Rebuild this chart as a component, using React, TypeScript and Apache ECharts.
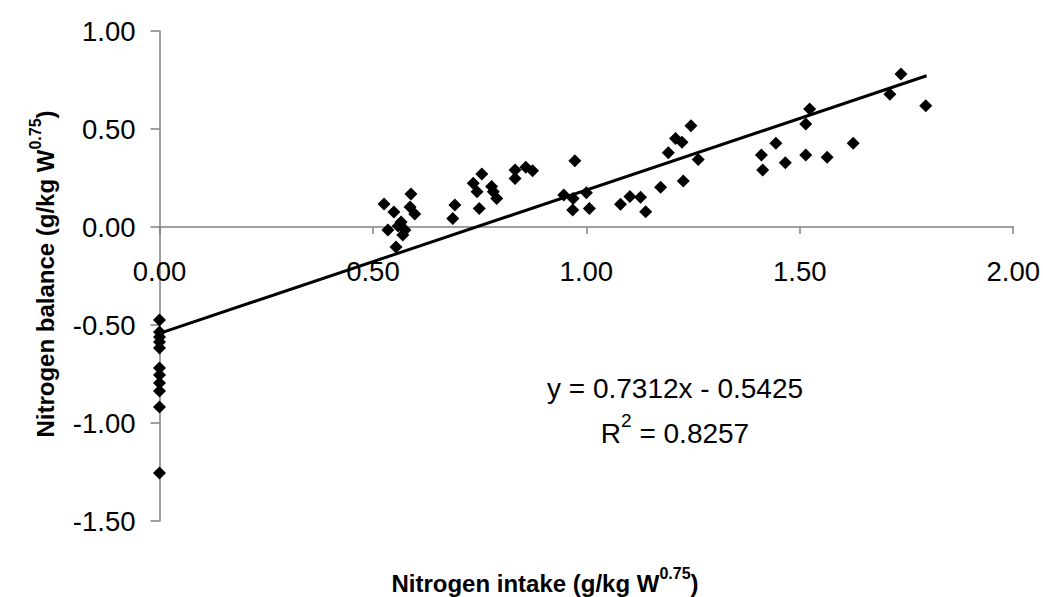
import React, { useEffect, useRef } from "react";
import * as echarts from "echarts";

const intake: number[] = [
  0, 0, 0, 0, 0, 0, 0, 0, 0, 0, 0,
  0.526, 0.535, 0.549, 0.554, 0.559, 0.566, 0.57, 0.575, 0.587, 0.589, 0.598,
  0.687, 0.692, 0.735, 0.744, 0.749, 0.755, 0.778, 0.782, 0.79, 0.833, 0.833, 0.858, 0.874,
  0.947, 0.969, 0.968, 0.973, 1.0, 1.007, 1.08, 1.102, 1.127, 1.139, 1.174, 1.192, 1.209,
  1.224, 1.227, 1.245, 1.262, 1.41, 1.413, 1.444, 1.466, 1.514, 1.523, 1.514, 1.564, 1.625,
  1.711, 1.737, 1.795,
];
const balance: number[] = [
  -0.474, -0.536, -0.561, -0.587, -0.617, -0.72, -0.755, -0.796, -0.837, -0.918, -1.255,
  0.117, -0.015, 0.077, -0.102, 0.005, 0.026, -0.041, -0.015, 0.102, 0.168, 0.066,
  0.044, 0.112, 0.223, 0.18, 0.095, 0.27, 0.206, 0.18, 0.146, 0.291, 0.248, 0.305, 0.287,
  0.163, 0.146, 0.087, 0.338, 0.175, 0.095, 0.116, 0.155, 0.152, 0.078, 0.203, 0.379, 0.452,
  0.432, 0.235, 0.517, 0.345, 0.367, 0.291, 0.427, 0.328, 0.526, 0.602, 0.367, 0.356, 0.427,
  0.677, 0.781, 0.619,
];
const slope = 0.7312;
const intercept = -0.5425;
const trendRange: number[] = [0, 1.797];
const xTicks = { min: 0, max: 2, interval: 0.5 };
const yTicks = { min: -1.5, max: 1, interval: 0.5 };
const equationText = "y = 0.7312x - 0.5425";
const r2Value = "0.8257";

const FONT = "'Liberation Sans', Arial, sans-serif";

export default function App() {
  const ref = useRef<HTMLDivElement>(null);
  useEffect(() => {
    document.body.style.margin = "0";
    if (!ref.current) return;
    const chart = echarts.init(ref.current, null, { renderer: "svg" });
    const points = intake.map((x, i) => [x, balance[i]]);
    const trend = trendRange.map((x) => [x, slope * x + intercept]);
    const gridTop = 31;
    const gridBottom = 76;
    const plotH = 597 - gridTop - gridBottom;
    // distance from bottom of grid to the y = 0 line, via the y scale
    const zeroOffset = (plotH * (0 - yTicks.min)) / (yTicks.max - yTicks.min);
    chart.setOption({
      animation: false,
      backgroundColor: "#ffffff",
      grid: { left: 159.5, right: 29.5, top: gridTop, bottom: gridBottom, containLabel: false },
      xAxis: {
        type: "value",
        min: xTicks.min,
        max: xTicks.max,
        interval: xTicks.interval,
        offset: -zeroOffset,
        axisLine: { show: true, onZero: false, lineStyle: { color: "#808080", width: 1.5 } },
        axisTick: { show: true, length: 7, lineStyle: { color: "#808080", width: 1.5 } },
        axisLabel: {
          margin: 30,
          fontFamily: FONT,
          fontSize: 27.5,
          color: "#000",
          formatter: (v: number) => v.toFixed(2),
        },
        splitLine: { show: false },
      },
      yAxis: {
        type: "value",
        min: yTicks.min,
        max: yTicks.max,
        interval: yTicks.interval,
        axisLine: { show: true, onZero: false, lineStyle: { color: "#808080", width: 1.5 } },
        axisTick: { show: true, length: 9, lineStyle: { color: "#808080", width: 1.5 } },
        axisLabel: {
          margin: 24,
          fontFamily: FONT,
          fontSize: 27.5,
          color: "#000",
          formatter: (v: number) => v.toFixed(2),
        },
        splitLine: { show: false },
      },
      series: [
        {
          type: "line",
          data: trend,
          showSymbol: false,
          symbol: "none",
          lineStyle: { color: "#000", width: 3 },
          z: 2,
        },
        {
          type: "scatter",
          data: points,
          symbol: "diamond",
          symbolSize: [13, 13],
          itemStyle: { color: "#000", opacity: 1 },
          z: 3,
        },
      ],
      graphic: [
        {
          type: "text",
          x: 545,
          y: 580,
          style: {
            text: "{a|Nitrogen intake (g/kg W}{b|0.75}{a|)}",
            align: "center",
            verticalAlign: "middle",
            rich: {
              a: { fontFamily: FONT, fontSize: 24, fontWeight: "bold", fill: "#000", lineHeight: 30, verticalAlign: "bottom" },
              b: { fontFamily: FONT, fontSize: 16, fontWeight: "bold", fill: "#000", lineHeight: 16, verticalAlign: "top" },
            },
          },
        },
        {
          type: "text",
          x: 42,
          y: 274,
          rotation: Math.PI / 2,
          style: {
            text: "{a|Nitrogen balance (g/kg W}{b|0.75}{a|)}",
            align: "center",
            verticalAlign: "middle",
            rich: {
              a: { fontFamily: FONT, fontSize: 24, fontWeight: "bold", fill: "#000", lineHeight: 30, verticalAlign: "bottom" },
              b: { fontFamily: FONT, fontSize: 16, fontWeight: "bold", fill: "#000", lineHeight: 16, verticalAlign: "top" },
            },
          },
        },
        {
          type: "text",
          x: 675,
          y: 388,
          style: {
            text: equationText,
            align: "center",
            verticalAlign: "middle",
            fontFamily: FONT,
            fontSize: 28,
            fill: "#000",
          },
        },
        {
          type: "text",
          x: 675,
          y: 429,
          style: {
            text: "{a|R}{b|2}{a| = " + r2Value + "}",
            align: "center",
            verticalAlign: "middle",
            rich: {
              a: { fontFamily: FONT, fontSize: 28, fill: "#000", lineHeight: 36, verticalAlign: "bottom" },
              b: { fontFamily: FONT, fontSize: 19, fill: "#000", lineHeight: 20, verticalAlign: "top" },
            },
          },
        },
      ],
    });
    return () => chart.dispose();
  }, []);
  return <div ref={ref} style={{ width: 1043, height: 597 }} />;
}
